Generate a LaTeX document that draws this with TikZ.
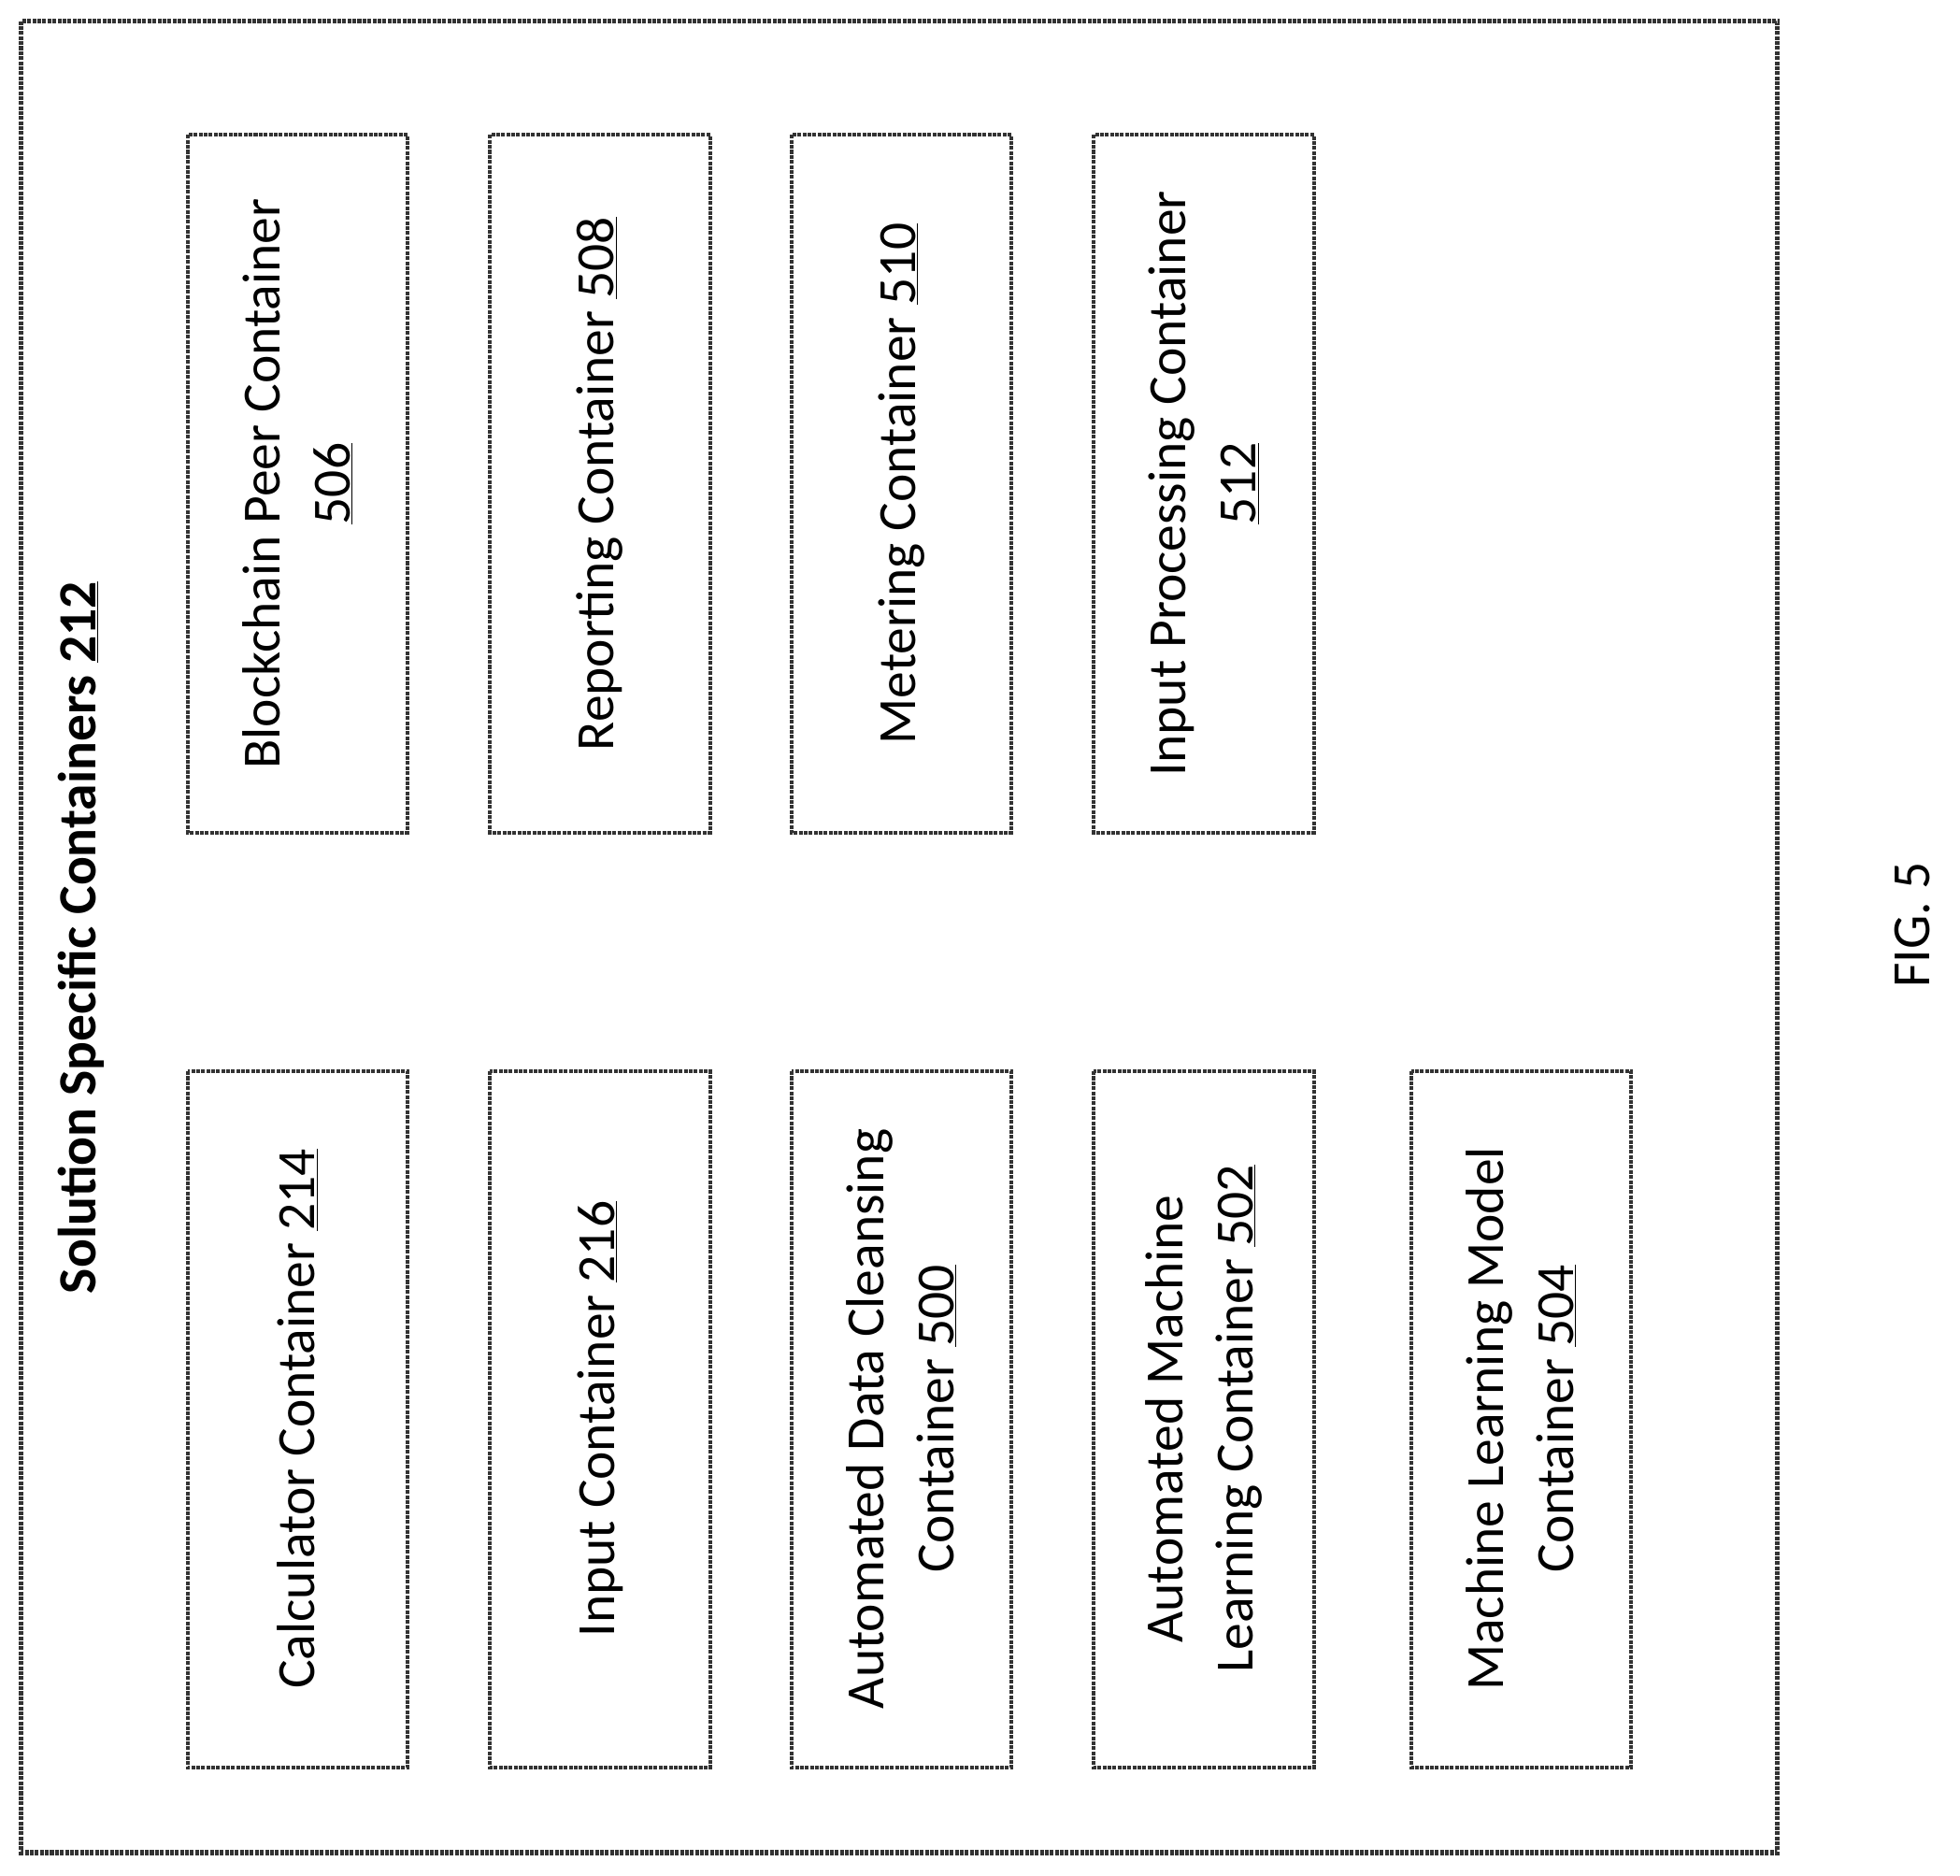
\documentclass[tikz,border=0pt]{standalone}
\usepackage{fontspec}
\setmainfont{Carlito}
\begin{document}
\begin{tikzpicture}[x=1pt,y=-1pt,
  box/.style={draw=black!80,line width=3pt,densely dotted},
  lbl/.style={rotate=90,align=center,font=\fontsize{43}{56}\selectfont}]
\useasboundingbox (0,0) rectangle (1568,1500);
\draw[box,line width=4pt] (17,17) rectangle (1422,1482);
\node[lbl,font=\fontsize{43}{56}\selectfont\bfseries] (title) at (65,750) {Solution Specific Containers \underline{212}};
\node[lbl] (fig) at (1530,740) {FIG. 5};
\foreach \n/\x/\t in {b506/150/{Blockchain Peer Container\\\underline{506}},
  b508/392/{Reporting Container \underline{508}},
  b510/633/{Metering Container \underline{510}},
  b512/875/{Input Processing Container\\\underline{512}}}{
  \draw[box] (\x,108) rectangle ++(176,558);
  \node[lbl] (\n) at (\x+88,387) {\t};}
\foreach \n/\x/\t in {b214/150/{Calculator Container \underline{214}},
  b216/392/{Input Container \underline{216}},
  b500/633/{Automated Data Cleansing\\Container \underline{500}},
  b502/875/{Automated Machine\\Learning Container \underline{502}},
  b504/1129/{Machine Learning Model\\Container \underline{504}}}{
  \draw[box] (\x,857) rectangle ++(176,557);
  \node[lbl] (\n) at (\x+88,1135) {\t};}
\end{tikzpicture}
\end{document}
